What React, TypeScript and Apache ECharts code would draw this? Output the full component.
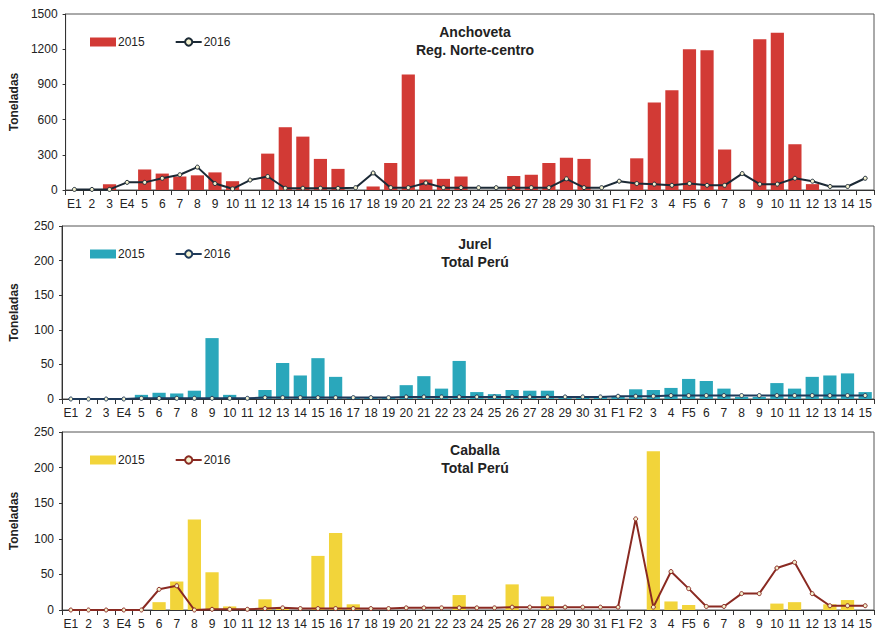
import { useEffect, useRef } from 'react'
import * as echarts from 'echarts'

const days = ['E1', '2', '3', 'E4', '5', '6', '7', '8', '9', '10', '11', '12', '13', '14', '15', '16', '17', '18', '19', '20', '21', '22', '23', '24', '25', '26', '27', '28', '29', '30', '31', 'F1', 'F2', '3', '4', 'F5', '6', '7', '8', '9', '10', '11', '12', '13', '14', '15']

const anch2015 = [0, 0, 50, 0, 175, 140, 115, 125, 150, 75, 0, 310, 535, 455, 265, 180, 0, 30, 230, 985, 90, 95, 115, 0, 0, 120, 130, 230, 275, 265, 0, 0, 270, 745, 850, 1200, 1190, 345, 0, 1285, 1340, 390, 50, 0, 0, 0]
const anch2016 = [5, 5, 5, 65, 65, 100, 130, 195, 55, 10, 85, 115, 15, 15, 15, 15, 20, 145, 20, 20, 60, 20, 20, 20, 20, 20, 20, 20, 95, 20, 20, 75, 55, 50, 40, 55, 40, 40, 140, 50, 50, 100, 75, 30, 30, 100]

const jurel2015 = [0, 0, 0, 0, 6, 9, 8, 12, 88, 6, 0, 13, 52, 34, 59, 32, 2, 2, 2, 20, 33, 15, 55, 10, 7, 13, 12, 12, 3, 3, 3, 3, 14, 13, 16, 29, 26, 15, 3, 3, 23, 15, 32, 34, 37, 10]
const jurel2016 = [0, 0, 0, 0, 1, 1, 1, 1, 1, 1, 1, 2, 2, 2, 2, 2, 2, 2, 2, 3, 3, 3, 3, 3, 3, 3, 3, 3, 3, 3, 3, 4, 4, 4, 5, 5, 5, 5, 5, 5, 5, 5, 5, 5, 5, 5]

const cab2015 = [0, 0, 0, 0, 0, 11, 40, 127, 53, 5, 0, 15, 3, 0, 76, 108, 8, 0, 0, 0, 0, 0, 21, 0, 0, 36, 0, 19, 0, 0, 0, 0, 0, 223, 12, 7, 0, 0, 0, 0, 9, 11, 0, 8, 14, 0]
const cab2016 = [0, 0, 0, 0, 0, 29, 34, 0, 1, 1, 1, 2, 3, 2, 2, 2, 2, 2, 2, 3, 3, 3, 3, 3, 3, 4, 4, 4, 4, 4, 4, 4, 128, 4, 54, 30, 5, 5, 23, 23, 59, 67, 23, 6, 6, 6]

const panels = [
  { title: 'Anchoveta\nReg. Norte-centro', bar: anch2015, line: anch2016, max: 1500, interval: 300, barColor: '#d23a35', lineColor: '#1c2a36', top: 14, height: 176 },
  { title: 'Jurel\nTotal Perú', bar: jurel2015, line: jurel2016, max: 250, interval: 50, barColor: '#2aa7bb', lineColor: '#1f3a5a', top: 226, height: 173 },
  { title: 'Caballa\nTotal Perú', bar: cab2015, line: cab2016, max: 250, interval: 50, barColor: '#f2d43a', lineColor: '#8a2a22', top: 432, height: 178 },
]

export default function App() {
  const chartRef = useRef<HTMLDivElement>(null)

  useEffect(() => {
    if (!chartRef.current) return
    document.body.style.margin = '0'
    const chart = echarts.init(chartRef.current, null, { renderer: 'svg' })

    const font = 'Arial, "Liberation Sans", sans-serif'
    const option = {
      animation: false,
      textStyle: { fontFamily: font },
      title: panels.map((p) => ({
        text: p.title,
        left: 470,
        textAlign: 'center',
        top: p.top + 4,
        textStyle: { fontSize: 14, fontWeight: 'bold', color: '#222', lineHeight: 18, fontFamily: font },
      })),
      legend: panels.map((p, i) => ({
        top: p.top + 17,
        left: 85,
        itemGap: 30,
        itemWidth: 26,
        itemHeight: 9,
        textStyle: { fontSize: 12, color: '#222', fontFamily: font, padding: [0, 0, 0, -3] },
        data: [
          { name: 's' + i + '_2015', icon: 'rect' },
          { name: 's' + i + '_2016' },
        ],
        formatter: (n: string) => n.split('_')[1],
      })),
      grid: panels.map((p) => ({
        left: 60, right: 3, top: p.top, height: p.height,
        show: true, borderColor: '#555', borderWidth: 1,
      })),
      xAxis: panels.map((p, i) => ({
        type: 'category',
        gridIndex: i,
        data: days,
        axisLine: { lineStyle: { color: '#333' } },
        axisTick: { show: true, interval: 0, lineStyle: { color: '#333' } },
        axisLabel: { interval: 0, fontSize: 12, color: '#222', margin: 8 },
      })),
      yAxis: panels.map((p, i) => ({
        type: 'value',
        gridIndex: i,
        min: 0,
        max: p.max,
        interval: p.interval,
        name: 'Toneladas',
        nameLocation: 'middle',
        nameGap: 42,
        nameTextStyle: { fontSize: 12, fontWeight: 'bold', color: '#222' },
        axisLine: { show: true, lineStyle: { color: '#333' } },
        axisTick: { show: true, length: 3 },
        splitLine: { show: false },
        axisLabel: { fontSize: 12, color: '#222', formatter: (v: number) => String(v) },
      })),
      series: panels.flatMap((p, i) => [
        {
          name: 's' + i + '_2015',
          type: 'bar',
          xAxisIndex: i,
          yAxisIndex: i,
          data: p.bar,
          barCategoryGap: '25%',
          itemStyle: { color: p.barColor },
        },
        {
          name: 's' + i + '_2016',
          type: 'line',
          xAxisIndex: i,
          yAxisIndex: i,
          data: p.line,
          symbol: 'circle',
          symbolSize: 4,
          lineStyle: { color: p.lineColor, width: 2 },
          itemStyle: { color: '#f4f2d0', borderColor: p.lineColor, borderWidth: 1 },
        },
      ]),
    }

    chart.setOption(option)
    return () => chart.dispose()
  }, [])

  return <div ref={chartRef} style={{ width: 877, height: 633 }} />
}
